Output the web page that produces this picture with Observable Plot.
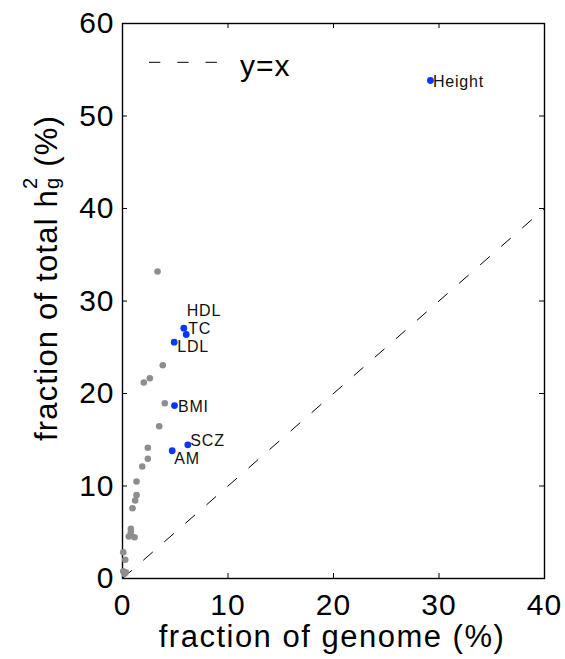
<!DOCTYPE html>
<html><head><meta charset="utf-8">
<script src="https://cdn.jsdelivr.net/npm/d3@7"></script>
<script src="https://cdn.jsdelivr.net/npm/@observablehq/plot@0.6"></script>
<style>body{margin:0;background:#fff} svg{display:block}</style>
</head><body><div id="chart"></div>
<script>
// Gray (unlabelled) traits: fraction of genome (%) vs fraction of total h2g (%)
const grayX = [3.32, 3.82, 2.59, 2.02, 4.01, 3.48, 2.40, 2.40, 1.87, 1.33, 1.33, 1.20, 0.95, 0.79, 0.60, 0.79, 1.14, 0.07, 0.26, 0.07, 0.31, 0.19];
const grayY = [33.19, 23.06, 21.65, 21.19, 18.95, 16.46, 14.14, 12.94, 12.11, 10.49, 9.01, 8.43, 7.60, 5.37, 4.54, 4.97, 4.46, 2.84, 2.02, 0.79, 0.68, 0.51];
// Highlighted (blue) traits
const traitNames = ["Height", "HDL", "TC", "LDL", "BMI", "SCZ", "AM"];
const traitX = [29.19, 6.04, 5.81, 4.90, 4.93, 6.19, 4.71];
const traitY = [53.84, 26.38, 27.06, 25.55, 18.70, 14.45, 13.81];
// Axes
const xTicks = [0, 10, 20, 30, 40];
const yTicks = [0, 10, 20, 30, 40, 50, 60];
const refLine = [0, 40]; // y = x

const gray = grayX.map((x, i) => ({x, y: grayY[i]}));
const traits = traitNames.map((name, i) => ({name, x: traitX[i], y: traitY[i]}));
const diag = refLine.map(v => ({x: v, y: v}));

const W = 565, H = 659, mL = 122, mR = 21, mT = 23, mB = 81;
const pw = W - mL - mR, ph = H - mT - mB;
const font = "'Liberation Sans', Arial, Helvetica, sans-serif";
const BLUE = "#0636ff", GRAY = "#8e8e8e";

const labelOffsets = {Height: [2.5, 1.5], HDL: [0.5, -23.5], TC: [4.5, 0.8], LDL: [3, 4.8], BMI: [3.5, 1.5], SCZ: [2.5, -3.5], AM: [2, 8.5]};

const chart = Plot.plot({
  width: W, height: H,
  marginLeft: mL, marginRight: mR, marginTop: mT, marginBottom: mB,
  style: {fontFamily: font, fontSize: "30px", color: "black", background: "white", letterSpacing: "1px"},
  x: {domain: [0, 40], label: null},
  y: {domain: [0, 60], label: null},
  marks: [
    Plot.line(diag, {x: "x", y: "y", stroke: "black", strokeWidth: 1, strokeDasharray: "12,16"}),
    Plot.axisX({ticks: xTicks, tickSize: 0, tickPadding: 15, tickFormat: d => String(d), label: null}),
    Plot.axisY({ticks: yTicks, tickSize: 0, tickPadding: 8, tickFormat: d => String(d), label: null}),
    Plot.tickY(yTicks, {y: d => d, insetRight: pw - 5, stroke: "black", strokeWidth: 1}),
    Plot.tickY(yTicks, {y: d => d, insetLeft: pw - 5, stroke: "black", strokeWidth: 1}),
    Plot.tickX(xTicks, {x: d => d, insetTop: ph - 5, stroke: "black", strokeWidth: 1}),
    Plot.tickX(xTicks, {x: d => d, insetBottom: ph - 5, stroke: "black", strokeWidth: 1}),
    Plot.frame({stroke: "black", strokeWidth: 1.4}),
    Plot.dot(gray, {x: "x", y: "y", r: 3.3, fill: GRAY, stroke: null}),
    Plot.dot(traits, {x: "x", y: "y", r: 3.4, fill: BLUE, stroke: null}),
    ...traits.map(t => Plot.text([t], {
      x: "x", y: "y", text: "name", textAnchor: "start",
      dx: labelOffsets[t.name][0], dy: labelOffsets[t.name][1],
      fontSize: 16, fill: "#111", style: "letter-spacing:0.8px"
    }))
  ]
});

document.getElementById("chart").appendChild(chart);
const svg = d3.select(chart);
svg.selectAll("g[aria-label='text'] text").style("letter-spacing", "0.8px");

// Legend: dashed sample + "y=x"
svg.append("line").attr("x1", 149).attr("x2", 218).attr("y1", 62.3).attr("y2", 62.3)
  .attr("stroke", "black").attr("stroke-width", 1).attr("stroke-dasharray", "11.3,17");
svg.append("text").attr("x", 240).attr("y", 76).attr("text-anchor", "start")
  .attr("font-size", 30).attr("fill", "black")
  .style("letter-spacing", "1px").text("y=x");

// X axis label
svg.append("text").attr("x", 332).attr("y", 647).attr("text-anchor", "middle")
  .attr("font-size", 31).attr("fill", "black").style("letter-spacing", "1.5px")
  .text("fraction of genome (%)");

// Y axis label with stacked superscript / subscript
const yl = svg.append("text").attr("transform", "translate(57,278) rotate(-90)")
  .attr("text-anchor", "middle").attr("font-size", 31).attr("fill", "black")
  .style("letter-spacing", "1.2px");
yl.append("tspan").text("fraction of total h");
yl.append("tspan").attr("font-size", 20).attr("dy", -20).text("2");
yl.append("tspan").attr("font-size", 20).attr("dx", -12.3).attr("dy", 21.5).text("g");
yl.append("tspan").attr("dy", -1.5).text(" (%)");
</script>
</body></html>
